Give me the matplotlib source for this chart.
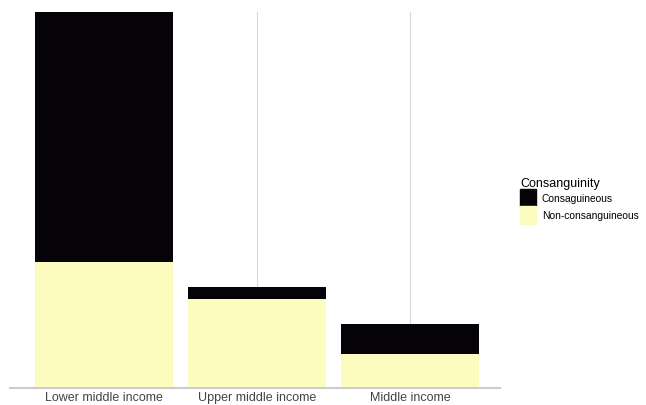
import matplotlib.pyplot as plt
from matplotlib.patches import Patch

plt.rcParams['font.family'] = ['Liberation Sans', 'DejaVu Sans']

# income groups and stacked values
groups = ["Lower middle income", "Upper middle income", "Middle income"]
non_consang = [125, 88, 33]
consang = [250, 12, 30]

col_cons = "#050308"
col_non = "#fdfcbf"

fig = plt.figure(figsize=(6.46, 4.06), dpi=100)
ax = fig.add_axes([10 / 646, 17 / 406, 490 / 646, 376 / 406])

x = range(len(groups))
ax.bar(x, non_consang, width=0.9, color=col_non, zorder=2)
ax.bar(x, consang, width=0.9, bottom=non_consang, color=col_cons, zorder=2)

ax.set_xlim(-0.614, 2.588)
ax.set_ylim(-1, 375)
ax.set_xticks(list(x))
ax.set_xticklabels(groups, fontsize=9, color="#444444")
ax.tick_params(axis="x", length=0, pad=2)
ax.set_yticks([])
for i in x:
    ax.axvline(i, color="#d9d9d9", lw=0.8, zorder=1)
for s in ["top", "right", "left"]:
    ax.spines[s].set_visible(False)
ax.spines["bottom"].set_color("#cccccc")
ax.spines["bottom"].set_linewidth(1.5)

handles = [Patch(color=col_cons, label="Consaguineous"),
           Patch(color=col_non, label="Non-consanguineous")]
leg = fig.legend(handles=handles, title="Consanguinity", loc="upper left",
                 bbox_to_anchor=(511 / 646, 1 - 169 / 406), frameon=False,
                 fontsize=7.4, title_fontsize=9, handlelength=1.5,
                 handleheight=2.2, handletextpad=0.6, labelspacing=0.0)
leg._legend_box.align = "left"

fig.savefig("out.png", dpi=100)
